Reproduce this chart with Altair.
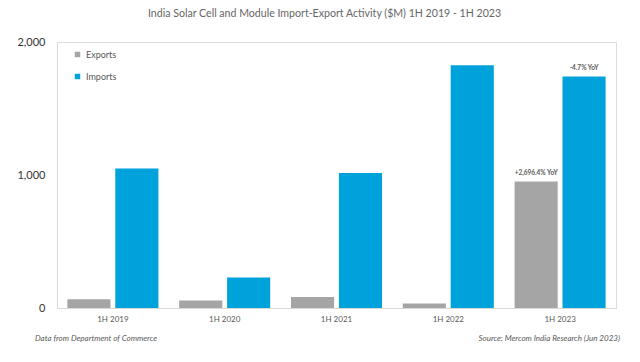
import altair as alt
import pandas as pd

periods = ["1H 2019", "1H 2020", "1H 2021", "1H 2022", "1H 2023"]
exports = [66, 56, 83, 34, 951]
imports = [1048, 229, 1015, 1826, 1740]
series = ["Exports", "Imports"]
notes_period = ["1H 2023", "1H 2023"]
notes_series = ["Exports", "Imports"]
notes_value = [951, 1740]
notes_text = ["+2,696.4% YoY", "-4.7% YoY"]

rows = []
for p, e, i in zip(periods, exports, imports):
    rows.append({"period": p, "series": "Exports", "value": e})
    rows.append({"period": p, "series": "Imports", "value": i})
df = pd.DataFrame(rows)
notes = pd.DataFrame({"period": notes_period, "series": notes_series,
                      "value": notes_value, "text": notes_text})

FONT = "Lato"
x_enc = alt.X("period:N", sort=periods, title=None,
              scale=alt.Scale(paddingInner=0.186, paddingOuter=0.093),
              axis=alt.Axis(labelAngle=0, labelFontSize=8, labelColor="#595959",
                            labelFont=FONT, ticks=False, domainColor="#D9D9D9",
                            labelPadding=7))
xo = alt.XOffset("series:N", sort=series,
                 scale=alt.Scale(paddingInner=0.1, paddingOuter=0))
y_enc = alt.Y("value:Q", title=None,
              scale=alt.Scale(domain=[0, 2000], nice=False),
              axis=alt.Axis(values=[0, 1000, 2000], format=",d", grid=False,
                            ticks=False, labelFontSize=11, labelColor="#333333",
                            labelFont=FONT, domainColor="#D9D9D9", labelPadding=12))

bars = alt.Chart(df).mark_bar().encode(
    x=x_enc, xOffset=xo, y=y_enc,
    color=alt.Color("series:N", sort=series,
                    scale=alt.Scale(domain=series, range=["#A5A5A5", "#00A2DB"]),
                    legend=alt.Legend(title=None, orient="none", legendX=16, legendY=8,
                                      symbolType="square", symbolSize=30,
                                      labelFontSize=9, labelColor="#595959",
                                      labelFont=FONT, rowPadding=12,
                                      symbolStrokeWidth=0)),
)

labels = alt.Chart(notes).mark_text(fontSize=6.5, fontWeight="bold", color="#595959",
                                    font=FONT, dy=-6, baseline="bottom").encode(
    x=alt.X("period:N", sort=periods), xOffset=alt.XOffset("series:N", sort=series),
    y="value:Q", text="text:N")

foot = pd.DataFrame({"t": ["Data from Department of Commerce"]})
foot_left = alt.Chart(foot).mark_text(fontSize=8, fontStyle="italic", color="#595959",
                                      font=FONT, align="left").encode(
    x=alt.value(-22), y=alt.value(297), text="t:N")
foot2 = pd.DataFrame({"t": ["Source: Mercom India Research (Jun 2023)"]})
foot_right = alt.Chart(foot2).mark_text(fontSize=8, fontStyle="italic", color="#595959",
                                        font=FONT, align="right").encode(
    x=alt.value(563), y=alt.value(297), text="t:N")

chart = alt.layer(bars, labels, foot_left, foot_right).properties(
    width=559, height=266,
    title=alt.TitleParams("India Solar Cell and Module Import-Export Activity ($M) 1H 2019 - 1H 2023",
                          fontSize=10.6, fontWeight="normal", color="#666666", font=FONT,
                          anchor="start", dx=131, offset=16),
    autosize=alt.AutoSizeParams(type="none"),
    padding={"left": 49, "top": 34, "right": 16, "bottom": 46},
).configure_view(stroke=None).configure(background="white")

chart.save("out.html", embed_options={"renderer": "svg", "actions": False})
